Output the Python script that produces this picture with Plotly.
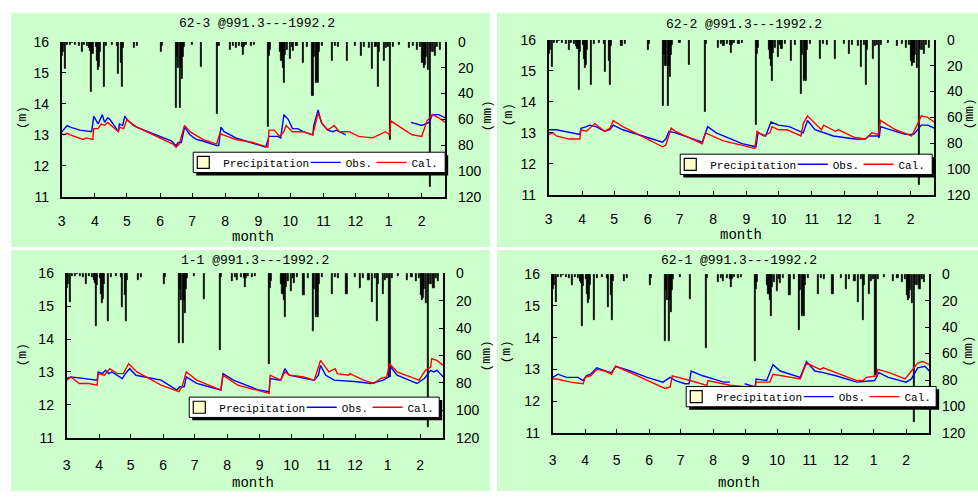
import pandas as pd
import plotly.graph_objects as go

W, H = 978, 499
START = pd.Timestamp("1991-03-01")
X_END = "1992-02-23"

# ---------------- data (days counted from 1991-03-01) ----------------
precip_day = [0, 1, 3, 5, 8, 10, 13, 16, 19, 21,
              24, 26, 27, 28, 29, 32, 33, 34, 35, 36,
              40, 42, 47, 52, 53, 56, 57, 58, 68, 71,
              93, 94, 107, 108, 109, 111, 112, 113, 114, 115,
              122, 131, 146, 147, 158, 161, 163, 166, 169, 170,
              171, 173, 177, 180, 193, 194, 195, 205, 206, 207,
              208, 209, 211, 214, 216, 217, 220, 226, 230, 235,
              236, 238, 239, 240, 241, 244, 253, 256, 259, 267,
              275, 280, 283, 288, 291, 294, 296, 297, 302, 304,
              306, 308, 310, 316, 325, 329, 333, 336, 338, 339,
              340, 341, 343, 345, 346, 348, 350, 352, 354]
precip_mm = [11, 8, 21, 2, 2, 1, 2, 3, 8, 2,
             3, 5, 7, 39, 9, 4, 15, 22, 19, 8,
             35, 3, 2, 3, 25, 16, 35, 5, 5, 3,
             8, 3, 51, 12, 20, 51, 20, 29, 12, 4,
             2, 19, 56, 3, 6, 3, 5, 3, 4, 10,
             4, 2, 3, 2, 66, 11, 6, 8, 15, 20,
             32, 10, 6, 13, 4, 7, 3, 16, 4, 42,
             12, 32, 30, 32, 8, 3, 15, 3, 4, 15,
             3, 11, 4, 5, 21, 4, 35, 8, 15, 5,
             4, 76, 4, 2, 5, 3, 6, 4, 16, 20,
             18, 12, 22, 112, 8, 8, 11, 4, 6]

# panel 1 : 62-3
obs1_day = [0, 5, 8, 17, 28, 30, 34, 38, 40, 43, 45, 53, 54, 57, 59, 62, 70, 92, 103, 104,
            107, 109, 112, 115, 120, 126, 132, 145, 147, 149, 152, 163, 182, 191, 194, 202, 205, 208, 212, 216,
            221, 226, 235, 236, 240, 243, 249, 254, 257, 266, 300, 327, 337, 344, 347, 353, 359]
obs1_m = [13.1, 13.3, 13.25, 13.15, 13.1, 13.6, 13.35, 13.65, 13.4, 13.55, 13.5, 13.1, 13.35, 13.3, 13.6, 13.45, 13.25, 12.95, 12.8, 12.75,
          12.65, 12.75, 12.75, 13.25, 13.0, 12.85, 12.8, 12.65, 12.65, 13.25, 13.1, 12.9, 12.7, 12.6, 12.95, 12.95, 12.9, 13.65, 13.5, 13.2,
          13.2, 13.1, 13.0, 13.3, 13.8, 13.4, 13.15, 13.1, 13.15, 13.0, None, 13.4, 13.3, 13.4, 13.65, 13.65, 13.55]
cal1_day = [0, 2, 5, 8, 20, 23, 29, 30, 34, 37, 40, 43, 53, 54, 58, 61, 67, 92, 104, 107,
            110, 114, 115, 120, 132, 145, 148, 151, 163, 179, 193, 194, 199, 204, 208, 210, 216, 226, 235, 240,
            244, 249, 255, 260, 269, 278, 291, 297, 303, 307, 308, 319, 328, 337, 342, 347, 353, 359]
cal1_m = [13.05, 13.0, 13.05, 13.0, 12.85, 12.9, 12.85, 13.2, 13.2, 13.35, 13.3, 13.4, 13.1, 13.25, 13.2, 13.5, 13.3, 12.9, 12.7, 12.6,
          12.7, 13.2, 13.3, 13.1, 12.85, 12.7, 13.05, 13.0, 12.85, 12.75, 12.6, 13.15, 13.15, 12.95, 13.1, 13.3, 13.1, 13.1, 13.0, 13.7,
          13.35, 13.15, 13.3, 13.1, 13.1, 12.95, 12.9, 13.0, 13.1, 13.0, 13.45, 13.2, 13.0, 12.95, 13.45, 13.65, 13.55, 13.4]

# panel 2 : 62-2
obs2_day = [0, 7, 29, 30, 35, 38, 44, 52, 57, 60, 69, 106, 109, 112, 118, 143, 148, 156, 180, 193,
            195, 202, 207, 214, 224, 233, 237, 241, 248, 265, 285, 295, 298, 308, 309, 323, 332, 340, 347, 353, 359]
obs2_m = [13.1, 13.1, 12.95, 13.15, 13.2, 13.25, 13.2, 13.05, 13.1, 13.25, 13.1, 12.7, 12.8, 13.05, 13.0, 12.7, 13.2, 13.0, 12.65, 12.55,
          13.0, 12.9, 13.35, 13.25, 13.2, 13.05, 13.0, 13.4, 13.1, 12.9, 12.8, 12.8, 12.9, 12.9, 13.2, 13.05, 12.95, 12.95, 13.25, 13.25, 13.15]
cal2_day = [0, 4, 7, 19, 29, 30, 35, 43, 52, 57, 60, 69, 106, 109, 114, 118, 143, 146, 162, 192,
            194, 200, 206, 208, 214, 222, 235, 237, 241, 254, 256, 267, 270, 285, 295, 301, 307, 309, 323, 338,
            343, 347, 353, 359]
cal2_m = [12.95, 13.0, 12.9, 12.8, 12.8, 13.1, 13.05, 13.3, 13.05, 13.15, 13.4, 13.2, 12.55, 12.6, 13.15, 13.05, 12.65, 13.0, 12.75, 12.5,
          13.05, 12.9, 13.0, 13.2, 13.1, 13.1, 12.9, 13.3, 13.55, 13.1, 13.25, 13.05, 13.1, 12.85, 12.8, 13.0, 12.95, 13.4, 13.1, 12.9,
          13.25, 13.55, 13.5, 13.35]

# panel 3 : 1-1
obs3_day = [0, 4, 29, 30, 34, 37, 40, 43, 53, 56, 60, 66, 90, 105, 108, 112, 114, 124, 147, 149,
            159, 183, 193, 194, 204, 208, 212, 220, 236, 240, 242, 247, 255, 277, 290, 302, 307, 309, 315, 334,
            341, 347, 350, 353, 359]
obs3_m = [12.8, 12.85, 12.75, 13.0, 12.95, 13.05, 12.95, 13.0, 12.8, 12.95, 13.1, 12.9, 12.75, 12.45, 12.55, 12.55, 12.85, 12.65, 12.45, 12.95,
          12.75, 12.45, 12.4, 12.8, 12.75, 13.1, 12.9, 12.85, 12.75, 12.9, 13.2, 12.9, 12.75, 12.7, 12.65, 12.75, 12.85, 13.15, 12.9, 12.65,
          12.8, 13.05, 13.0, 13.05, 12.85]
cal3_day = [0, 4, 12, 21, 29, 30, 36, 41, 48, 54, 59, 67, 90, 107, 110, 114, 124, 147, 149, 163,
            193, 194, 204, 208, 213, 226, 236, 239, 242, 250, 256, 258, 269, 270, 283, 293, 299, 305, 308, 315,
            336, 342, 347, 348, 353, 359]
cal3_m = [12.75, 12.85, 12.65, 12.65, 12.6, 12.95, 12.9, 13.1, 12.95, 12.95, 13.25, 13.0, 12.6, 12.4, 12.55, 13.0, 12.75, 12.45, 12.9, 12.6,
          12.35, 12.9, 12.75, 13.0, 12.9, 12.85, 12.75, 13.05, 13.35, 13.0, 13.1, 12.95, 12.9, 12.95, 12.75, 12.65, 12.8, 12.85, 13.25, 13.0,
          12.75, 13.05, 13.15, 13.4, 13.35, 13.2]

# panel 4 : 62-1
obs4_day = [0, 5, 13, 24, 29, 32, 36, 42, 50, 56, 60, 74, 90, 105, 112, 117, 126, 130, 132, 143,
            153, 163, 169, 176, 183, 193, 194, 204, 210, 217, 236, 242, 250, 258, 270, 290, 307, 311, 320, 337,
            342, 348, 355, 359]
obs4_m = [12.75, 12.85, 12.75, 12.75, 12.65, 12.8, 12.85, 13.05, 12.95, 12.9, 13.1, 12.95, 12.75, 12.6, 12.75, 12.65, 12.55, 12.55, 12.95, 12.8,
          12.7, 12.6, 12.6, None, 12.55, 12.45, 12.7, 12.65, 13.15, 12.95, 12.75, 13.25, 12.95, 12.9, 12.8, 12.6, 12.65, 12.9, 12.75, 12.6,
          12.7, 13.05, 13.1, 12.95]
cal4_day = [0, 4, 17, 29, 31, 36, 42, 50, 56, 60, 74, 90, 107, 112, 114, 131, 147, 148, 156, 169,
            185, 193, 194, 207, 210, 220, 236, 242, 255, 258, 277, 290, 296, 299, 309, 310, 321, 336, 342, 348,
            353, 359]
cal4_m = [12.7, 12.7, 12.6, 12.55, 12.75, 12.8, 13.0, 12.95, 12.85, 13.1, 12.9, 12.65, 12.4, 12.45, 12.8, 12.65, 12.5, 12.65, 12.6, 12.5,
          12.45, 12.4, 12.6, 12.6, 12.85, 12.8, 12.7, 13.2, 13.0, 13.05, 12.8, 12.65, 12.65, 12.75, 12.8, 13.0, 12.9, 12.7, 12.95, 13.2,
          13.25, 13.15]

panel_titles = ["62-3 @991.3---1992.2", "62-2 @991.3---1992.2",
                "1-1 @991.3---1992.2", "62-1 @991.3---1992.2"]
series_names = ["Precipitation", "Obs.", "Cal."]
x_title = "month"
y_left_title = "(m)"
y_right_title = "(mm)"

obs_sets = [(obs1_day, obs1_m), (obs2_day, obs2_m), (obs3_day, obs3_m), (obs4_day, obs4_m)]
cal_sets = [(cal1_day, cal1_m), (cal2_day, cal2_m), (cal3_day, cal3_m), (cal4_day, cal4_m)]


def to_dates(days):
    return [START + pd.Timedelta(days=d) for d in days]


# ---------------- layout geometry (pixels) ----------------
plot_boxes = [(58, 35, 443, 195), (547, 33, 934, 193), (63, 274, 441, 444), (551, 275, 929, 439)]
green_boxes = [(7, 5, 488, 247), (495, 5, 978, 247), (7, 250, 488, 499), (495, 250, 978, 499)]
legend_boxes = [(190, 149, 443, 170), (679, 151, 932, 172), (186, 402, 437, 423), (685, 391, 936, 412)]
legend_text_offsets = [33, 156, 222]
title_pos = [(254, 16), (743, 17), (252, 261), (738, 261)]
month_pos = [(250, 237), (740, 235), (250, 491), (738, 491)]
ml_pos = [(18, 113), (507, 110), (19, 358), (505, 355)]
mm_pos = [(485, 112), (969, 110), (484, 360), (969, 355)]


def px(x):
    return x / W


def py(y):
    return 1 - y / H


GREEN = "#CCFFCC"
YELLOW = "#FFFFCC"
TICKFONT = dict(family="Liberation Sans", size=14, color="black")
MONO = "Liberation Mono"

fig = go.Figure()
layout = dict(width=W, height=H, margin=dict(l=0, r=0, t=0, b=0),
              paper_bgcolor="white", plot_bgcolor=YELLOW, showlegend=True,
              bargap=0, shapes=[], annotations=[])
dates_p = to_dates(precip_day)

for i in range(4):
    k = i + 1
    xname = "x" if k == 1 else f"x{k}"
    ymm = "y" if k == 1 else f"y{2 * k - 1}"
    ym = f"y{2 * k}"
    lgs = []
    for j in range(3):
        n = 3 * i + j + 1
        lgs.append("legend" if n == 1 else f"legend{n}")

    # precipitation bars (hanging from the top, reversed right axis)
    fig.add_trace(go.Bar(x=dates_p, y=precip_mm, name=series_names[0], xaxis=xname, yaxis=ymm,
                         showlegend=False, width=86400000 * 1.0,
                         marker=dict(color="black", line=dict(color="black", width=0.8))))
    # legend entry for precipitation (no marks)
    fig.add_trace(go.Bar(x=[None], y=[None], name=series_names[0], xaxis=xname, yaxis=ymm,
                         legend=lgs[0],
                         marker=dict(color=YELLOW, line=dict(color="black", width=1.2))))
    od, om = obs_sets[i]
    cd, cm = cal_sets[i]
    fig.add_trace(go.Scatter(x=to_dates(od), y=om, mode="lines", name=series_names[1],
                             xaxis=xname, yaxis=ym, legend=lgs[1],
                             line=dict(color="#0000FF", width=1.4)))
    fig.add_trace(go.Scatter(x=to_dates(cd), y=cm, mode="lines", name=series_names[2],
                             xaxis=xname, yaxis=ym, legend=lgs[2],
                             line=dict(color="#FF0000", width=1.4)))

    x0, y0, x1, y1 = plot_boxes[i]
    xkey = "xaxis" if k == 1 else f"xaxis{k}"
    ymmkey = "yaxis" if k == 1 else f"yaxis{2 * k - 1}"
    ymkey = f"yaxis{2 * k}"
    layout[xkey] = dict(domain=[px(x0), px(x1)], anchor=ymm, type="date",
                        range=[START.strftime("%Y-%m-%d"), X_END],
                        tick0="1991-03-01", dtick="M1", tickformat="%-m",
                        ticks="inside", ticklen=4, tickcolor="black",
                        showline=True, linecolor="black", linewidth=2,
                        showgrid=False, zeroline=False, tickfont=TICKFONT,
                        ticklabelstandoff=10 if i < 2 else 13)
    layout[ymmkey] = dict(domain=[py(y1), py(y0)], anchor=xname, side="right",
                          range=[120, 0], dtick=20, tick0=0,
                          ticks="inside", ticklen=4, tickcolor="black",
                          showline=True, linecolor="black", linewidth=2,
                          showgrid=False, zeroline=False, tickfont=TICKFONT,
                          ticklabelstandoff=8)
    layout[ymkey] = dict(overlaying=ymm, anchor=xname, side="left",
                         range=[11, 16], dtick=1, tick0=11,
                         ticks="inside", ticklen=4, tickcolor="black",
                         showline=True, linecolor="black", linewidth=2,
                         showgrid=False, zeroline=False, tickfont=TICKFONT,
                         ticklabelstandoff=8)

    gx0, gy0, gx1, gy1 = green_boxes[i]
    layout["shapes"].append(dict(type="rect", xref="paper", yref="paper", layer="below",
                                 x0=px(gx0), x1=px(gx1), y0=py(gy1), y1=py(gy0),
                                 fillcolor=GREEN, line=dict(width=0)))
    lx0, ly0, lx1, ly1 = legend_boxes[i]
    layout["shapes"].append(dict(type="rect", xref="paper", yref="paper", layer="above",
                                 x0=px(lx0 + 3), x1=px(lx1 + 3), y0=py(ly1 + 3), y1=py(ly0 + 3),
                                 fillcolor="black", line=dict(width=0)))
    layout["shapes"].append(dict(type="rect", xref="paper", yref="paper", layer="above",
                                 x0=px(lx0), x1=px(lx1), y0=py(ly1), y1=py(ly0),
                                 fillcolor="white", line=dict(color="black", width=1)))
    for j in range(3):
        layout[lgs[j]] = dict(orientation="h", x=px(lx0 + legend_text_offsets[j] - 43), xanchor="left",
                              y=py((ly0 + ly1) / 2), yanchor="middle",
                              bgcolor="rgba(0,0,0,0)", borderwidth=0,
                              font=dict(family=MONO, size=11, color="black"))

    tx, ty = title_pos[i]
    layout["annotations"].append(dict(text=panel_titles[i], x=px(tx), y=py(ty), xref="paper", yref="paper",
                                      showarrow=False, xanchor="center", yanchor="middle",
                                      font=dict(family=MONO, size=13, color="black")))
    mx, my = month_pos[i]
    layout["annotations"].append(dict(text=x_title, x=px(mx), y=py(my), xref="paper", yref="paper",
                                      showarrow=False, xanchor="center", yanchor="middle",
                                      font=dict(family=MONO, size=14, color="black")))
    lx, lyy = ml_pos[i]
    layout["annotations"].append(dict(text=y_left_title, x=px(lx), y=py(lyy), xref="paper", yref="paper",
                                      showarrow=False, xanchor="center", yanchor="middle", textangle=-90,
                                      font=dict(family=MONO, size=13, color="black")))
    rx, ry = mm_pos[i]
    layout["annotations"].append(dict(text=y_right_title, x=px(rx), y=py(ry), xref="paper", yref="paper",
                                      showarrow=False, xanchor="center", yanchor="middle", textangle=-90,
                                      font=dict(family=MONO, size=13, color="black")))

fig.update_layout(**layout)
fig.write_html("out.html", config={"displayModeBar": False},
               post_script="document.body.style.margin='0';document.body.style.overflow='hidden';")
